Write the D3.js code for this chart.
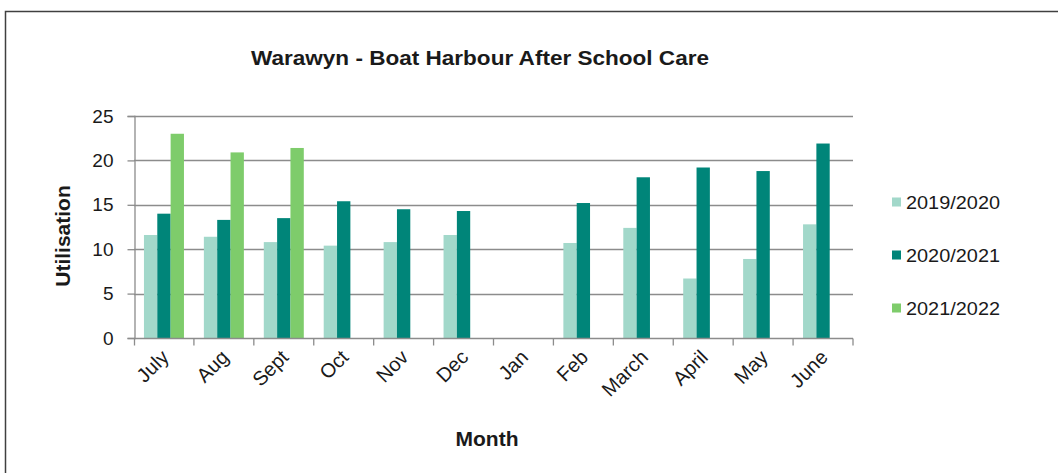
<!DOCTYPE html>
<html>
<head>
<meta charset="utf-8">
<script src="https://cdn.jsdelivr.net/npm/d3@7"></script>
<style>
    body { margin: 0; background: #fff; }
    text { font-family: "Liberation Sans", Arial, sans-serif; fill: #1a1a1a; }
</style>
</head>
<body>
<div id="chart"></div>
<script>
// values
var months = ["July", "Aug", "Sept", "Oct", "Nov", "Dec", "Jan", "Feb", "March", "April", "May", "June"];
var seriesNames = ["2019/2020", "2020/2021", "2021/2022"];
var util1920 = [11.6, 11.4, 10.8, 10.4, 10.8, 11.6, null, 10.7, 12.4, 6.7, 8.9, 12.8];
var util2021 = [14.0, 13.3, 13.5, 15.4, 14.5, 14.3, null, 15.2, 18.1, 19.2, 18.8, 21.9];
var util2122 = [23.0, 20.9, 21.4, null, null, null, null, null, null, null, null, null];
var yTicks = [0, 5, 10, 15, 20, 25];
var colors = ["#a2d8ca", "#008579", "#7ecc6b"];

var W = 1058, H = 473;
var plot = {left: 134, right: 853, top: 116, bottom: 338};

var svg = d3.select('#chart').append('svg')
    .attr('width', W).attr('height', H);

// outer chart frame
svg.append('rect')
    .attr('x', 5.5).attr('y', 11.5)
    .attr('width', W + 20).attr('height', H + 20)
    .attr('fill', 'none').attr('stroke', '#404040').attr('stroke-width', 1.5);

var x0 = d3.scaleBand().domain(months).range([plot.left, plot.right]);
var x1 = d3.scaleBand().domain(seriesNames).range([0, 40]);
var y = d3.scaleLinear().domain([0, 25]).range([plot.bottom, plot.top]);

// gridlines
svg.append('g').selectAll('line').data(yTicks.filter(d => d > 0)).enter()
    .append('line')
    .attr('x1', plot.left).attr('x2', plot.right)
    .attr('y1', d => Math.round(y(d)) + 0.5).attr('y2', d => Math.round(y(d)) + 0.5)
    .attr('stroke', '#8c8c8c').attr('stroke-width', 1.3);

// bars
var rows = months.map((m, i) => ({month: m, vals: [util1920[i], util2021[i], util2122[i]]}));
var groups = svg.append('g').selectAll('g').data(rows).enter()
    .append('g')
    .attr('transform', d => `translate(${x0(d.month) + (x0.bandwidth() - 40) / 2},0)`);

groups.selectAll('rect')
    .data(d => d.vals.map((v, j) => ({name: seriesNames[j], value: v, j: j})).filter(e => e.value != null))
    .enter().append('rect')
    .attr('x', d => x1(d.name))
    .attr('width', x1.bandwidth())
    .attr('y', d => y(d.value))
    .attr('height', d => y(0) - y(d.value))
    .attr('fill', d => colors[d.j]);

// y axis
var yAxis = svg.append('g')
    .attr('transform', `translate(${plot.left + 0.5},0)`)
    .call(d3.axisLeft(y).tickValues(yTicks).tickSize(7).tickPadding(14));
yAxis.selectAll('line, path').attr('stroke', '#8c8c8c').attr('stroke-width', 1.3);
yAxis.selectAll('text').attr('font-size', 19).attr('fill', '#1a1a1a')
    .style('font-family', '"Liberation Sans", Arial, sans-serif');

// x axis, ticks on category boundaries
var xAxis = svg.append('g').attr('transform', `translate(0,${plot.bottom + 0.5})`);
xAxis.append('line')
    .attr('x1', plot.left).attr('x2', plot.right)
    .attr('stroke', '#8c8c8c').attr('stroke-width', 1.3);
xAxis.selectAll('.tk').data(months).enter().append('line')
    .attr('x1', d => x0(d) + x0.bandwidth()).attr('x2', d => x0(d) + x0.bandwidth())
    .attr('y1', 0).attr('y2', 7)
    .attr('stroke', '#8c8c8c').attr('stroke-width', 1.3);
xAxis.append('line')
    .attr('x1', plot.left + 0.5).attr('x2', plot.left + 0.5).attr('y1', 0).attr('y2', 7)
    .attr('stroke', '#8c8c8c').attr('stroke-width', 1.3);
xAxis.selectAll('.lbl').data(months).enter().append('text')
    .attr('text-anchor', 'end')
    .attr('font-size', 20)
    .attr('transform', d => `translate(${x0(d) + x0.bandwidth() / 2 + 6},${20}) rotate(-45)`)
    .text(d => d);

// titles
svg.append('text')
    .attr('x', 480).attr('y', 65)
    .attr('text-anchor', 'middle')
    .attr('font-size', 20).attr('font-weight', 'bold')
    .attr('textLength', 458).attr('lengthAdjust', 'spacingAndGlyphs')
    .text('Warawyn - Boat Harbour After School Care');

svg.append('text')
    .attr('text-anchor', 'middle')
    .attr('font-size', 21).attr('font-weight', 'bold')
    .attr('transform', 'translate(70,236) rotate(-90)')
    .text('Utilisation');

svg.append('text')
    .attr('x', 487).attr('y', 446)
    .attr('text-anchor', 'middle')
    .attr('font-size', 21).attr('font-weight', 'bold')
    .text('Month');

// legend
var legend = svg.append('g').selectAll('g').data(seriesNames).enter()
    .append('g')
    .attr('transform', (d, i) => `translate(892,${202 + i * 53})`);
legend.append('rect')
    .attr('x', 0).attr('y', -4.5).attr('width', 9).attr('height', 9)
    .attr('fill', (d, i) => colors[i]);
legend.append('text')
    .attr('x', 14).attr('y', 6.5)
    .attr('font-size', 18)
    .attr('textLength', 94).attr('lengthAdjust', 'spacingAndGlyphs')
    .text(d => d);
</script>
</body>
</html>
